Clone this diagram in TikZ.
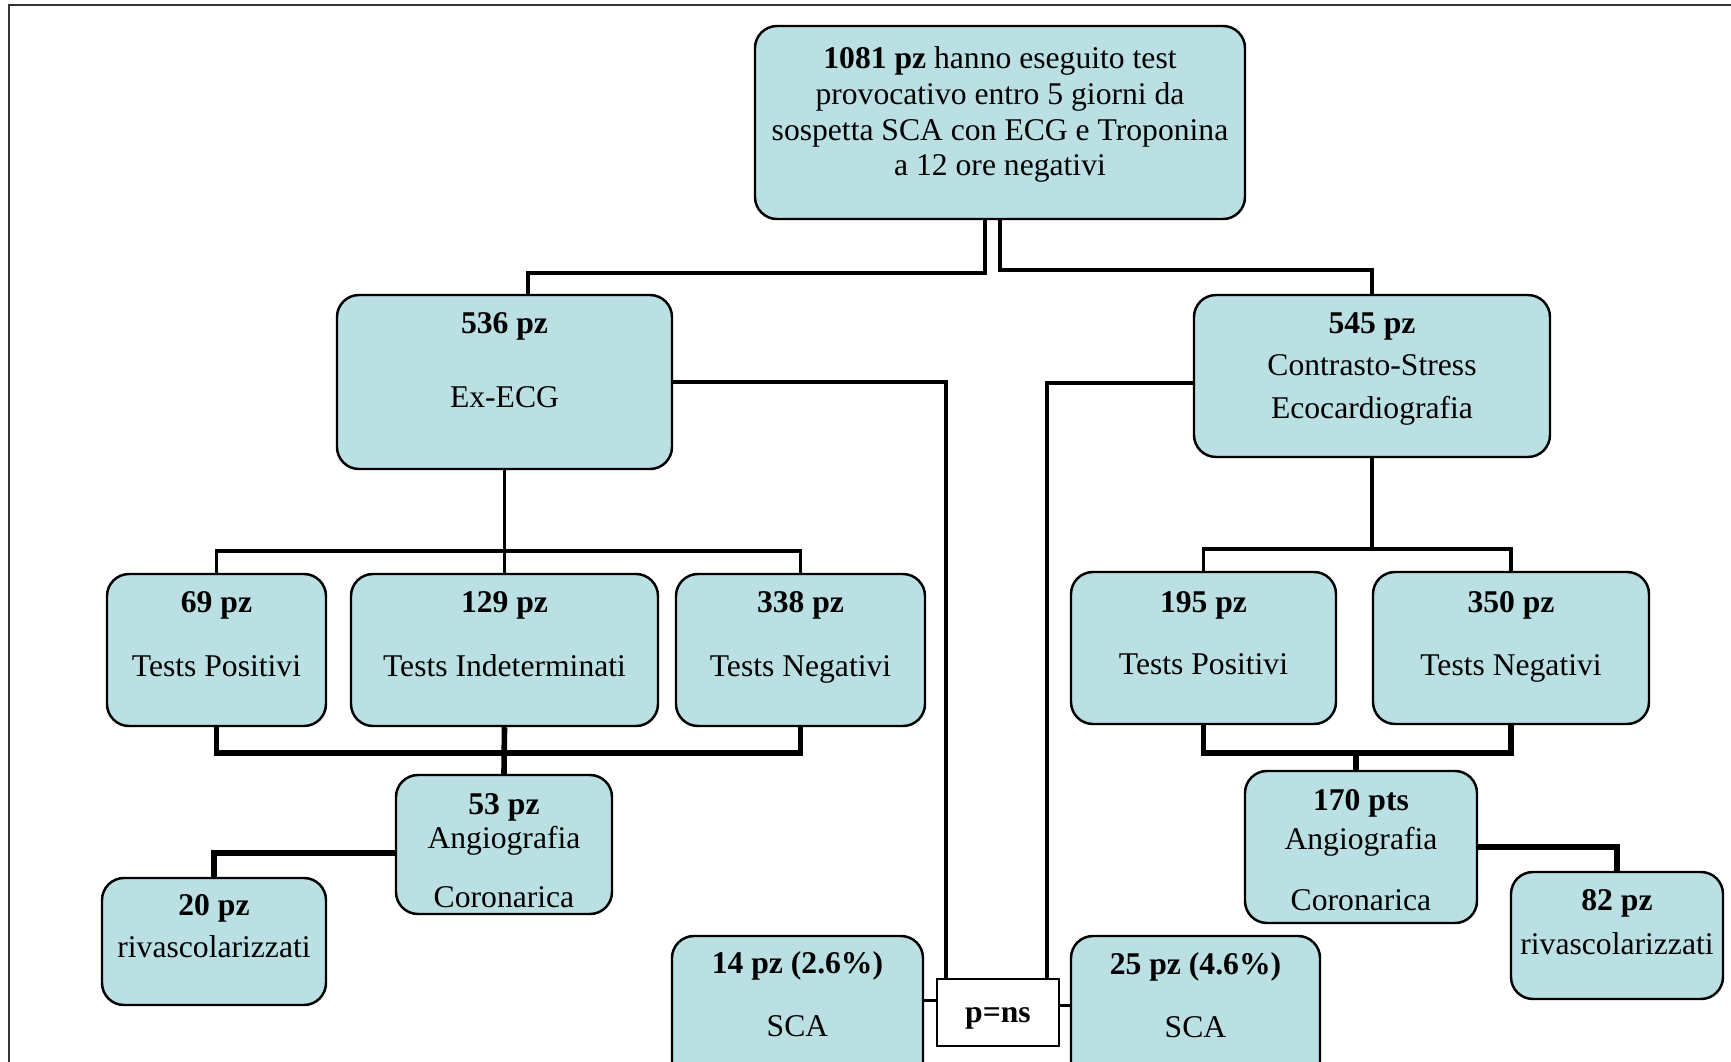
\documentclass[tikz,border=0pt]{standalone}
\usepackage{fontspec}
\setmainfont{Liberation Serif}
\usetikzlibrary{positioning}
\definecolor{boxfill}{RGB}{186,224,227}

\begin{document}
\begin{tikzpicture}[
  pbox/.style={draw, line width=0.7pt, rounded corners=0.22cm, fill=boxfill, inner sep=0pt},
  txt/.style={align=center, inner sep=0pt, font=\fontsize{9}{10.2}\selectfont},
  link/.style={line width=1pt},
  blink/.style={line width=1.6pt}]
  \clip (0,0) rectangle (17.31,10.61);
  % page frame
  \draw[black!80, line width=0.4pt] (0.09,-0.2) -- (0.09,10.56) -- (17.5,10.56);
  % boxes
  \node[pbox, minimum width=4.90cm, minimum height=1.93cm] (tot) at (10.00,9.385) {};
  \node[pbox, minimum width=3.35cm, minimum height=1.74cm] (ecg) at (5.045,6.79) {};
  \node[pbox, minimum width=3.56cm, minimum height=1.62cm] (eco) at (13.72,6.85) {};
  \node[pbox, minimum width=2.19cm, minimum height=1.52cm] (ePos) at (2.165,4.11) {};
  \node[pbox, minimum width=3.07cm, minimum height=1.52cm] (eInd) at (5.045,4.11) {};
  \node[pbox, minimum width=2.49cm, minimum height=1.52cm] (eNeg) at (8.005,4.11) {};
  \node[pbox, minimum width=2.65cm, minimum height=1.52cm] (cPos) at (12.035,4.13) {};
  \node[pbox, minimum width=2.76cm, minimum height=1.52cm] (cNeg) at (15.11,4.13) {};
  \node[pbox, minimum width=2.16cm, minimum height=1.39cm] (eAng) at (5.04,2.165) {};
  \node[pbox, minimum width=2.32cm, minimum height=1.52cm] (cAng) at (13.61,2.14) {};
  \node[pbox, minimum width=2.24cm, minimum height=1.27cm] (eRiv) at (2.14,1.195) {};
  \node[pbox, minimum width=2.12cm, minimum height=1.27cm] (cRiv) at (16.17,1.255) {};
  \node[pbox, minimum width=2.51cm, minimum height=1.54cm] (eSca) at (7.975,0.48) {};
  \node[pbox, minimum width=2.49cm, minimum height=1.54cm] (cSca) at (11.955,0.48) {};
  \node[draw, line width=0.7pt, fill=white, minimum width=1.22cm, minimum height=0.67cm,
    txt, text height=5.6pt, text depth=0pt] (pns) at (9.98,0.485) {\textbf{p=ns}};
  % connectors, top
  \draw[link] ([xshift=-1.5mm]tot.south) -- ++(0,-0.53) -| ([xshift=2.35mm]ecg.north);
  \draw[link] (tot.south) -- ++(0,-0.50) -| (eco.north);
  % connectors to p=ns
  \draw[link] (ecg.east) -| ([xshift=-5.2mm]pns.north);
  \draw[link] ([yshift=-0.7mm]eco.west) -| ([xshift=4.9mm]pns.north);
  \draw[link] ([yshift=1.2mm]pns.west) -- ([yshift=1.2mm]pns.west -| eSca.east);
  \draw[link] ([yshift=0.7mm]pns.east) -- ([yshift=0.7mm]pns.east -| cSca.west);
  % Ex-ECG branch
  \draw[link] (ecg.south) -- ++(0,-0.81) coordinate (eSplit) -- (eInd.north);
  \draw[link] (ePos.north) |- (eSplit) -| (eNeg.north);
  \draw[blink] (ePos.south) -- ++(0,-0.26) -| (eNeg.south);
  \draw[blink] (eInd.south) -- (eAng.north);
  \draw[blink] ([yshift=-0.85mm]eAng.west) -| (eRiv.north);
  % eco branch
  \draw[link] (eco.south) -- ++(0,-0.91) coordinate (cSplit);
  \draw[link] (cPos.north) |- (cSplit) -| (cNeg.north);
  \draw[blink] (cPos.south) -- ++(0,-0.28) coordinate (cJoin) -| (cNeg.south);
  \draw[blink] ([xshift=-0.5mm]cAng.north) -- ([xshift=-0.5mm]cAng.north |- cJoin);
  \draw[blink] (cAng.east) -| (cRiv.north);
  % texts
  \node[txt, below=0.21cm of tot.north] (tot-t) {\textbf{1081 pz} hanno eseguito test\\
    provocativo entro 5 giorni da\\sospetta SCA con ECG e Troponina\\a 12 ore negativi};
  \node[txt, below=0.18cm of ecg.north] (ecg-t) {\textbf{536 pz}\\[11pt]Ex-ECG};
  \node[txt, below=0.18cm of eco.north] (eco-t) {\textbf{545 pz}\\[1.9pt]Contrasto-Stress\\[1.9pt]Ecocardiografia};
  \node[txt, below=0.18cm of ePos.north] (ePos-t) {\textbf{69 pz}\\[7.9pt]Tests Positivi};
  \node[txt, below=0.18cm of eInd.north] (eInd-t) {\textbf{129 pz}\\[7.9pt]Tests Indeterminati};
  \node[txt, below=0.18cm of eNeg.north] (eNeg-t) {\textbf{338 pz}\\[7.9pt]Tests Negativi};
  \node[txt, below=0.20cm of cPos.north] (cPos-t) {\textbf{195 pz}\\[7.6pt]Tests Positivi};
  \node[txt, below=0.20cm of cNeg.north] (cNeg-t) {\textbf{350 pz}\\[7.6pt]Tests Negativi};
  \node[txt, below=0.19cm of eAng.north] (eAng-t) {\textbf{53 pz}\\[-0.6pt]Angiografia\\[6.8pt]Coronarica};
  \node[txt, below=0.19cm of cAng.north] (cAng-t) {\textbf{170 pts}\\[0.9pt]Angiografia\\[7.2pt]Coronarica};
  \node[txt, below=0.17cm of eRiv.north] (eRiv-t) {\textbf{20 pz}\\[1.8pt]rivascolarizzati};
  \node[txt, below=0.18cm of cRiv.north] (cRiv-t) {\textbf{82 pz}\\[2.2pt]rivascolarizzati};
  \node[txt, below=0.16cm of eSca.north] (eSca-t) {\textbf{14 pz (2.6\%)}\\[7.7pt]SCA};
  \node[txt, below=0.17cm of cSca.north] (cSca-t) {\textbf{25 pz (4.6\%)}\\[7.7pt]SCA};
\end{tikzpicture}
\end{document}
